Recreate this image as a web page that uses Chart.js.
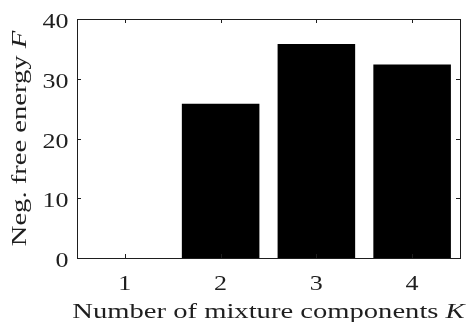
<!DOCTYPE html>
<html>
<head>
<meta charset="utf-8">
<script src="https://cdn.jsdelivr.net/npm/chart.js@4.4.1/dist/chart.umd.min.js"></script>
<style>
  html, body { margin: 0; padding: 0; background: #fff; overflow: hidden; }
</style>
</head>
<body>
<canvas id="chart" width="466" height="322"></canvas>
<script>
// data
const categories = ['1', '2', '3', '4'];
const freeEnergy = [0, 25.8, 35.8, 32.4];
const yTicks = [0, 10, 20, 30, 40];
const xTitle = [['Number of mixture components ', 'normal'], ['K', 'italic']];
const yTitle = [['Neg. free energy ', 'normal'], ['F', 'italic']];

const FAMILY = '"Liberation Serif", "Times New Roman", serif';
const INK = '#1e1e1e';
// the latex font in the figure is much wider than Times, so text is widened
const TITLE_SIZE = 22, TITLE_SX = 1.3;
const TICK_SIZE = 20.5, TICK_SX = 1.27;

// writes a row of [text, style] parts, stretched along the writing direction
function drawParts(ctx, parts, size, sx, x, y, align) {
  ctx.save();
  ctx.translate(x, y);
  ctx.scale(sx, 1);
  let total = 0;
  parts.forEach(p => { ctx.font = p[1] + ' ' + size + 'px ' + FAMILY; total += ctx.measureText(p[0]).width; });
  let cx = align === 'center' ? -total / 2 : align === 'right' ? -total : 0;
  parts.forEach(p => {
    ctx.font = p[1] + ' ' + size + 'px ' + FAMILY;
    ctx.fillText(p[0], cx, 0);
    cx += ctx.measureText(p[0]).width;
  });
  ctx.restore();
}

// matlab style box with inner ticks, tick labels and axis titles
const matlabAxes = {
  id: 'matlabAxes',
  afterDraw(chart) {
    const ctx = chart.ctx;
    const a = chart.chartArea;
    const xs = chart.scales.x, ys = chart.scales.y;
    const tl = 4;
    ctx.save();
    ctx.strokeStyle = INK;
    ctx.lineWidth = 1;
    ctx.strokeRect(Math.round(a.left) + 0.5, Math.round(a.top) + 0.5,
      Math.round(a.right - a.left), Math.round(a.bottom - a.top));
    ctx.beginPath();
    xs.ticks.forEach((t, i) => {
      const px = Math.round(xs.getPixelForTick(i)) + 0.5;
      ctx.moveTo(px, a.bottom); ctx.lineTo(px, a.bottom - tl);
      ctx.moveTo(px, a.top); ctx.lineTo(px, a.top + tl);
    });
    ys.ticks.forEach((t, i) => {
      const py = Math.round(ys.getPixelForTick(i)) + 0.5;
      ctx.moveTo(a.left, py); ctx.lineTo(a.left + tl, py);
      ctx.moveTo(a.right, py); ctx.lineTo(a.right - tl, py);
    });
    ctx.stroke();

    ctx.fillStyle = INK;
    ctx.textBaseline = 'alphabetic';
    xs.ticks.forEach((t, i) => {
      drawParts(ctx, [[xs.getLabelForValue(t.value), 'normal']], TICK_SIZE, TICK_SX,
        xs.getPixelForTick(i), 290, 'center');
    });
    ys.ticks.forEach((t, i) => {
      drawParts(ctx, [[String(t.value), 'normal']], TICK_SIZE, TICK_SX,
        68.5, ys.getPixelForTick(i) + 9, 'right');
    });

    drawParts(ctx, xTitle, TITLE_SIZE, TITLE_SX, (a.left + a.right) / 2, 317.5, 'center');
    ctx.translate(25.5, (a.top + a.bottom) / 2);
    ctx.rotate(-Math.PI / 2);
    drawParts(ctx, yTitle, TITLE_SIZE, TITLE_SX, 0, 0, 'center');
    ctx.restore();
  }
};

new Chart(document.getElementById('chart'), {
  type: 'bar',
  data: {
    labels: categories,
    datasets: [{
      data: freeEnergy,
      backgroundColor: '#000',
      borderWidth: 0,
      barPercentage: 0.81,
      categoryPercentage: 1.0
    }]
  },
  options: {
    responsive: false,
    animation: false,
    devicePixelRatio: 1,
    layout: { padding: { top: 19, right: 6, left: 0, bottom: 0 } },
    plugins: { legend: { display: false }, tooltip: { enabled: false } },
    scales: {
      x: {
        grid: { display: false, drawTicks: false },
        border: { display: false },
        ticks: { display: false },
        afterFit: s => { s.height = 64; }
      },
      y: {
        min: 0,
        max: 40,
        afterBuildTicks: s => { s.ticks = yTicks.map(v => ({ value: v })); },
        grid: { display: false, drawTicks: false },
        border: { display: false },
        ticks: { display: false },
        afterFit: s => { s.width = 77; }
      }
    }
  },
  plugins: [matlabAxes]
});
</script>
</body>
</html>
